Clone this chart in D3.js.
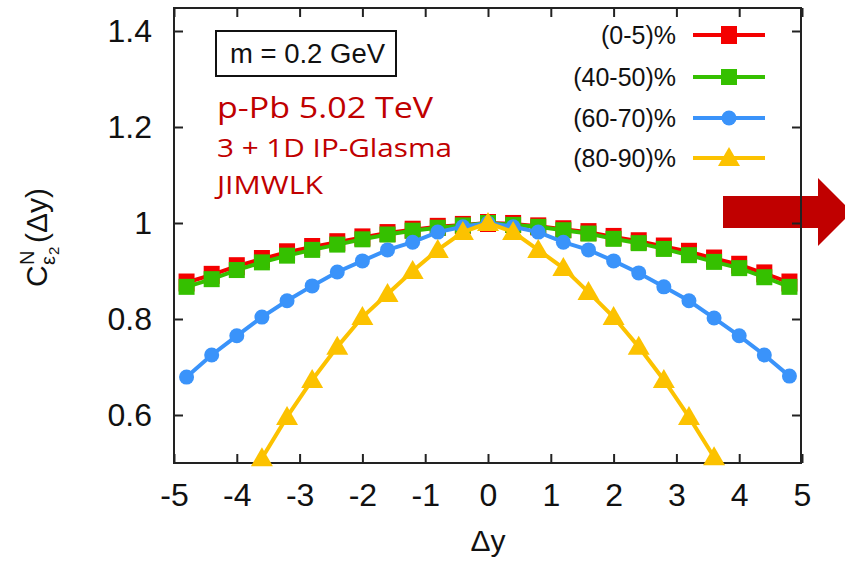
<!DOCTYPE html>
<meta charset="utf-8">
<style>
body { margin: 0; background: #fff; }
svg { display: block; }
.tick text { font-family: "Liberation Sans", Arial, sans-serif; }
</style>
<body>
<script src="https://d3js.org/d3.v7.min.js"></script>
<script>
// rapidity gap positions
var dy = [-4.8, -4.4, -4.0, -3.6, -3.2, -2.8, -2.4, -2.0, -1.6, -1.2, -0.8, -0.4, 0,
          0.4, 0.8, 1.2, 1.6, 2.0, 2.4, 2.8, 3.2, 3.6, 4.0, 4.4, 4.8];

var c0_5 = [0.876, 0.892, 0.910, 0.925, 0.939, 0.950, 0.960, 0.970, 0.979, 0.986, 0.992, 0.996, 1.0,
            0.998, 0.993, 0.987, 0.981, 0.971, 0.962, 0.951, 0.940, 0.926, 0.913, 0.895, 0.876];
var c40_50 = [0.867, 0.883, 0.902, 0.918, 0.932, 0.944, 0.955, 0.966, 0.976, 0.984, 0.990, 0.995, 1.0,
              0.996, 0.992, 0.985, 0.978, 0.967, 0.958, 0.946, 0.933, 0.919, 0.906, 0.887, 0.867];
var c60_70 = [0.679, 0.725, 0.765, 0.804, 0.838, 0.869, 0.898, 0.921, 0.944, 0.960, 0.981, 0.992, 1.0,
              0.992, 0.981, 0.960, 0.944, 0.921, 0.896, 0.867, 0.838, 0.802, 0.765, 0.725, 0.681];
// (80-90)% only visible between -3.6 and 3.6
var dy80 = [-3.6, -3.2, -2.8, -2.4, -2.0, -1.6, -1.2, -0.8, -0.4, 0, 0.4, 0.8, 1.2, 1.6, 2.0, 2.4, 2.8, 3.2, 3.6];
var c80_90 = [0.510, 0.596, 0.673, 0.742, 0.804, 0.852, 0.900, 0.944, 0.981, 1.0,
              0.981, 0.944, 0.906, 0.856, 0.804, 0.742, 0.673, 0.596, 0.512];

var xTicks = [-5, -4, -3, -2, -1, 0, 1, 2, 3, 4, 5];
var yTicks = [0.6, 0.8, 1.0, 1.2, 1.4];

var series = [
  {label: "(0-5)%",   x: dy,   y: c0_5,   color: "#f40000", shape: "box"},
  {label: "(40-50)%", x: dy,   y: c40_50, color: "#35c000", shape: "square"},
  {label: "(60-70)%", x: dy,   y: c60_70, color: "#3a93fa", shape: "circle"},
  {label: "(80-90)%", x: dy80, y: c80_90, color: "#fcc200", shape: "triangle"}
];

var W = 845, H = 565;
var frameL = 174, frameR = 801, frameT = 8, frameB = 463;

var svg = d3.select("body").append("svg")
  .attr("width", W)
  .attr("height", H);

var x = d3.scaleLinear().domain([-5, 5]).range([174, 802]);
var y = d3.scaleLinear().domain([0.5, 1.45]).range([463, 7]);

// red arrow overlay (drawn below the frame)
svg.append("path")
  .attr("d", "M723,196 L818,196 L818,178 L852,212 L818,246 L818,228 L723,228 Z")
  .attr("fill", "#c00000");

// axes, ticks pointing inward
svg.append("g")
  .attr("transform", "translate(0," + frameB + ")")
  .call(d3.axisBottom(x).tickValues(xTicks).tickSize(-9).tickPadding(20).tickFormat(d => String(d)))
  .call(g => g.select(".domain").remove());
svg.append("g")
  .attr("transform", "translate(0," + frameT + ")")
  .call(d3.axisTop(x).tickValues(xTicks).tickSize(-9).tickFormat(""))
  .call(g => g.select(".domain").remove());
svg.append("g")
  .attr("transform", "translate(" + frameL + ",0)")
  .call(d3.axisLeft(y).tickValues(yTicks).tickSize(-9).tickPadding(22).tickFormat(d => d === 1 ? "1" : d3.format(".1f")(d)))
  .call(g => g.select(".domain").remove());
svg.append("g")
  .attr("transform", "translate(" + frameR + ",0)")
  .call(d3.axisRight(y).tickValues(yTicks).tickSize(-9).tickFormat(""))
  .call(g => g.select(".domain").remove());

svg.selectAll(".tick line").attr("stroke", "#222").attr("stroke-width", 2);
svg.selectAll(".tick text").attr("font-size", 32).attr("fill", "#111");

svg.append("rect")
  .attr("x", frameL).attr("y", frameT)
  .attr("width", frameR - frameL).attr("height", frameB - frameT)
  .attr("fill", "none")
  .attr("stroke", "#222")
  .attr("stroke-width", 2);

// markers
function marker(g, shape, color) {
  if (shape === "box") {
    g.append("rect").attr("x", -8).attr("y", -9).attr("width", 16).attr("height", 18).attr("fill", color);
  } else if (shape === "square") {
    g.append("rect").attr("x", -8).attr("y", -8).attr("width", 16).attr("height", 16).attr("fill", color);
  } else if (shape === "circle") {
    g.append("circle").attr("r", 7.5).attr("fill", color);
  } else {
    g.append("path").attr("d", "M0,-11 L11,8 L-11,8 Z").attr("fill", color);
  }
}

var line = d3.line();

series.forEach(function(s) {
  var pts = s.x.map((v, i) => [x(v), y(s.y[i])]);
  svg.append("path")
    .attr("d", line(pts))
    .attr("fill", "none")
    .attr("stroke", s.color)
    .attr("stroke-width", 4);
  pts.forEach(function(p) {
    marker(svg.append("g").attr("transform", "translate(" + p[0] + "," + p[1] + ")"), s.shape, s.color);
  });
});

// legend
var rows = [35, 77, 118, 158];
series.forEach(function(s, i) {
  svg.append("text")
    .attr("x", 676).attr("y", rows[i] + 9)
    .attr("text-anchor", "end")
    .attr("font-family", "Liberation Sans, Arial, sans-serif")
    .attr("font-size", 25)
    .attr("fill", "#111")
    .text(s.label);
  svg.append("line")
    .attr("x1", 693).attr("x2", 765)
    .attr("y1", rows[i]).attr("y2", rows[i])
    .attr("stroke", s.color).attr("stroke-width", 4);
  marker(svg.append("g").attr("transform", "translate(729," + rows[i] + ")"), s.shape, s.color);
});

// annotation box
svg.append("rect")
  .attr("x", 216).attr("y", 31).attr("width", 180).attr("height", 45)
  .attr("fill", "#fff").attr("stroke", "#111").attr("stroke-width", 2);
svg.append("text")
  .attr("x", 230).attr("y", 63)
  .attr("font-family", "Liberation Sans, Arial, sans-serif")
  .attr("font-size", 27)
  .attr("textLength", 155).attr("lengthAdjust", "spacingAndGlyphs")
  .attr("fill", "#111")
  .text("m = 0.2 GeV");

var red = [
  {t: "p-Pb 5.02 TeV", y: 118, size: 30, w: 216},
  {t: "3 + 1D IP-Glasma", y: 157, size: 26, w: 235},
  {t: "JIMWLK", y: 194, size: 26, w: 106}
];
red.forEach(function(r) {
  svg.append("text")
    .attr("x", 217).attr("y", r.y)
    .attr("font-family", "Open Sans, Noto Sans, sans-serif")
    .attr("font-size", r.size)
    .attr("textLength", r.w).attr("lengthAdjust", "spacingAndGlyphs")
    .attr("fill", "#c00000")
    .text(r.t);
});

// axis titles
svg.append("text")
  .attr("x", 488).attr("y", 551)
  .attr("text-anchor", "middle")
  .attr("font-family", "Liberation Sans, Arial, sans-serif")
  .attr("font-size", 30)
  .attr("fill", "#111")
  .text("Δy");

var yl = svg.append("g")
  .attr("transform", "translate(47,287) rotate(-90)")
  .attr("font-family", "Liberation Sans, Arial, sans-serif")
  .attr("fill", "#111");
yl.append("text").attr("x", 0).attr("y", 0).attr("font-size", 30).text("C");
yl.append("text").attr("x", 22).attr("y", -13).attr("font-size", 20).text("N");
yl.append("text").attr("x", 22).attr("y", 8).attr("font-size", 20).text("ε");
yl.append("text").attr("x", 32).attr("y", 12).attr("font-size", 15).text("2");
yl.append("text").attr("x", 44).attr("y", 0).attr("font-size", 30).text("(Δy)");
</script>
</body>
